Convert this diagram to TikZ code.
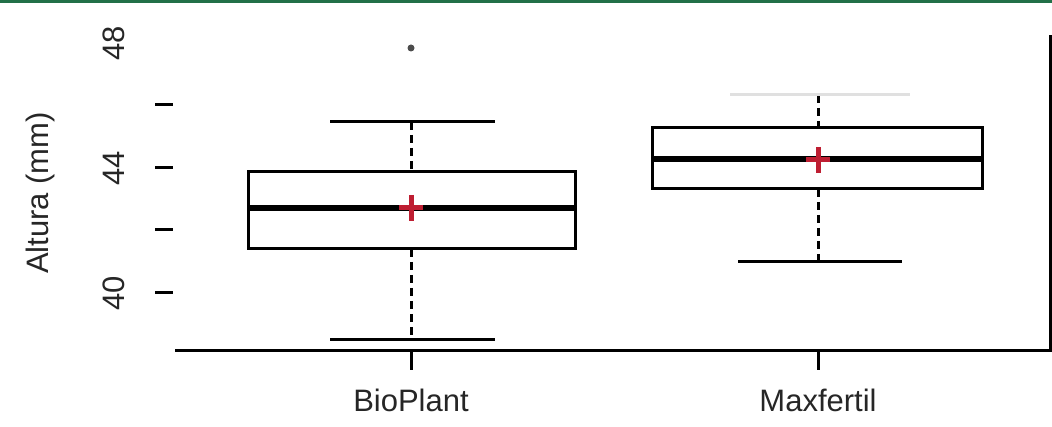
\documentclass[tikz,border=0pt]{standalone}
\usepackage{fontspec}
\setmainfont{Liberation Sans}
\definecolor{framegreen}{RGB}{34,112,72}
\definecolor{meanred}{RGB}{190,30,50}
\begin{document}
\begin{tikzpicture}[x=1pt,y=-1pt,line join=miter,font=\fontsize{31}{36}\selectfont,
		box/.style={line width=3pt},
		median/.style={line width=6.5pt},
		whisk/.style={line width=3pt,dash pattern=on 8pt off 5pt},
		wcap/.style={line width=3pt},
		mean/.style={meanred,line width=5pt}]
		\useasboundingbox (0,0) rectangle (1052,427);
		\fill[framegreen] (0,0) rectangle (1052,3);
		% axes
		\draw[line width=3pt] (175,351)--(1050,351)--(1050,35);
		\foreach \yy/\lab in {168/44,293/40}
		\draw[line width=3pt] (155,\yy)--(173,\yy) node[black!85,rotate=90] at (114,\yy){\lab};
		\foreach \yy in {105,230}
		\draw[line width=3pt] (155,\yy)--(173,\yy);
		\node[black!85,rotate=90] at (114,43){48};
		\node[black!85,rotate=90] (ylab) at (40,193){Altura (mm)};
		\coordinate (B) at (411,351);
		\coordinate (M) at (818,351);
		\draw[line width=3pt] (B)--++(0,19) node[below=14pt,black!85]{BioPlant};
		\draw[line width=3pt] (M)--++(0,19) node[below=14pt,black!85]{Maxfertil};
		% BioPlant
		\draw[whisk] (411,122)--(411,172);
		\draw[whisk] (411,249)--(411,340);
		\draw[wcap] (330,122)--(495,122);
		\draw[wcap] (330,340)--(495,340);
		\draw[box] (248,172) rectangle (575,249);
		\draw[median] (248,208)--(575,208);
		\fill[black!70] (411,48) circle (3.5pt);
		\draw[mean] (399,208)--(423,208) (411,195)--(411,221);
		% Maxfertil
		\draw[whisk] (818,95)--(818,128);
		\draw[whisk] (818,189)--(818,262);
		\draw[wcap,black!12] (730,95)--(910,95);
		\draw[wcap] (738,262)--(902,262);
		\draw[box] (652,128) rectangle (982,189);
		\draw[median] (652,159)--(982,159);
		\draw[mean] (806,160)--(830,160) (818,147)--(818,173);
\end{tikzpicture}
\end{document}
